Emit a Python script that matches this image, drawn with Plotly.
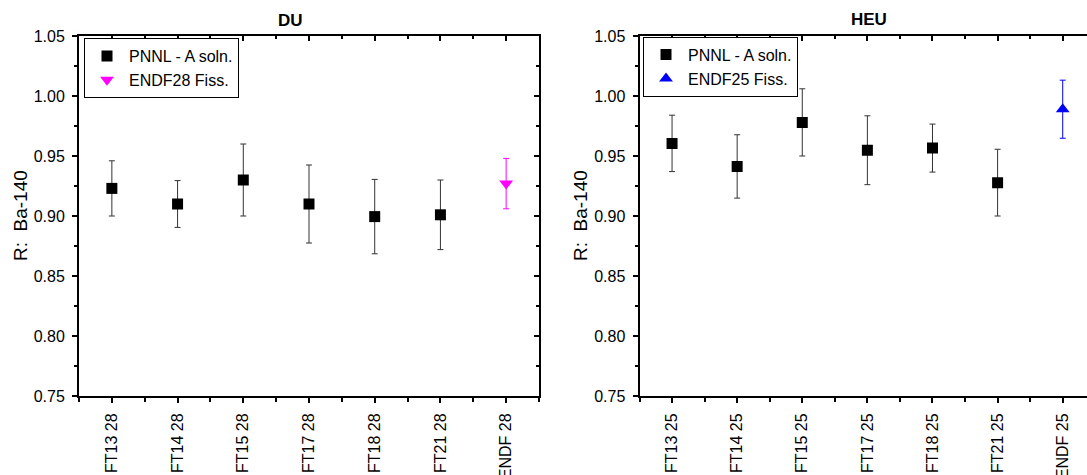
import plotly.graph_objects as go

# ---- data ----
du_labels = ["FT13 28", "FT14 28", "FT15 28", "FT17 28", "FT18 28", "FT21 28", "ENDF 28"]
du_pnnl = [0.923, 0.910, 0.930, 0.910, 0.8995, 0.901]
du_pnnl_err = [0.023, 0.0195, 0.030, 0.0325, 0.031, 0.029]
du_endf = [0.927]
du_endf_err = [0.021]

heu_labels = ["FT13 25", "FT14 25", "FT15 25", "FT17 25", "FT18 25", "FT21 25", "ENDF 25"]
heu_pnnl = [0.9605, 0.9413, 0.978, 0.9548, 0.9566, 0.9278]
heu_pnnl_err = [0.0235, 0.0264, 0.028, 0.0287, 0.020, 0.0278]
heu_endf = [0.989]
heu_endf_err = [0.0242]

y_range = [0.75, 1.05]
FONT = "Arial, Liberation Sans, sans-serif"

fig = go.Figure()

pos = list(range(1, 8))

def add_panel(xa, ya, labels, pnnl, perr, endf, eerr, ename, ecolor, esym, legend):
    fig.add_trace(go.Scatter(
        x=pos[:len(pnnl)], y=pnnl, mode="markers", name="PNNL - A soln.",
        marker=dict(symbol="square", size=11, color="black"),
        error_y=dict(type="data", array=perr, color="#333333", thickness=1, width=3),
        xaxis=xa, yaxis=ya, legend=legend))
    fig.add_trace(go.Scatter(
        x=[pos[len(pnnl)]], y=endf, mode="markers", name=ename,
        marker=dict(symbol=esym, size=12, color=ecolor),
        error_y=dict(type="data", array=eerr, color=ecolor, thickness=1, width=3),
        xaxis=xa, yaxis=ya, legend=legend))

add_panel("x", "y", du_labels, du_pnnl, du_pnnl_err, du_endf, du_endf_err,
          "ENDF28 Fiss.", "#ff00ff", "triangle-down", "legend")
add_panel("x2", "y2", heu_labels, heu_pnnl, heu_pnnl_err, heu_endf, heu_endf_err,
          "ENDF25 Fiss.", "#0000ff", "triangle-up", "legend2")

# dummy traces to activate overlay axes
for xa, ya in [("x3", "y"), ("x4", "y2"), ("x", "y3")]:
    fig.add_trace(go.Scatter(x=[None], y=[None], xaxis=xa, yaxis=ya,
                             showlegend=False, hoverinfo="skip"))

minor_x = [0.5 + i for i in range(8)]

def xbottom(domain, rng, labels):
    return dict(domain=domain, range=rng, tickvals=pos, ticktext=labels,
                tickangle=-90, ticks="outside", ticklen=5, tickwidth=1.5,
                tickcolor="black", showline=True, linecolor="black", linewidth=2,
                showgrid=False, zeroline=False, automargin=False,
                ticklabelstandoff=4,
                tickfont=dict(family=FONT, size=16, color="black"),
                minor=dict(tickvals=minor_x, ticks="outside", ticklen=4,
                           tickwidth=1.5, tickcolor="black", showgrid=False))

def xtop(over, rng):
    return dict(overlaying=over, side="top", range=rng, tickvals=pos,
                ticks="inside", ticklen=5, tickwidth=1.5, tickcolor="black",
                showticklabels=False, showline=True, linecolor="black",
                linewidth=2, showgrid=False, zeroline=False, automargin=False,
                minor=dict(tickvals=minor_x, ticks="inside", ticklen=3,
                           tickwidth=1.5, tickcolor="black", showgrid=False))

def yleft(anchor):
    return dict(anchor=anchor, domain=[0, 1], range=y_range, dtick=0.05,
                tick0=0.75, tickformat=".2f", ticks="outside", ticklen=5,
                tickwidth=1.5, tickcolor="black", showline=True,
                linecolor="black", linewidth=2, showgrid=False, zeroline=False,
                automargin=False, ticklabelstandoff=4,
                tickfont=dict(family=FONT, size=16, color="black"),
                minor=dict(dtick=0.025, tick0=0.75, ticks="outside", ticklen=3,
                           tickwidth=1.5, tickcolor="black", showgrid=False))

x1_range = [0.5, 7.5]
x2_range = [0.5, 7.373]

ytitle = "R:\u00a0 Ba-140"

fig.update_layout(
    template="none",
    width=1087, height=475,
    margin=dict(l=0, r=0, t=36, b=79, autoexpand=False),
    paper_bgcolor="white", plot_bgcolor="white",
    font=dict(family=FONT, size=16, color="black"),
    xaxis=dict(anchor="y", **xbottom([79 / 1087, 539 / 1087], x1_range, du_labels)),
    xaxis2=dict(anchor="y2", **xbottom([639.5 / 1087, 1.0], x2_range, heu_labels)),
    xaxis3=dict(anchor="y", **xtop("x", x1_range)),
    xaxis4=dict(anchor="y2", **xtop("x2", x2_range)),
    yaxis=yleft("x"),
    yaxis2=yleft("x2"),
    yaxis3=dict(overlaying="y", side="right", anchor="x", range=y_range,
                dtick=0.05, tick0=0.75, ticks="inside", ticklen=5, tickwidth=1.5,
                tickcolor="black", showticklabels=False, showline=True,
                linecolor="black", linewidth=2, showgrid=False, zeroline=False,
                automargin=False,
                minor=dict(dtick=0.025, tick0=0.75, ticks="inside", ticklen=3,
                           tickwidth=1.5, tickcolor="black", showgrid=False)),
    legend=dict(x=84 / 1087, y=0.994, xanchor="left", yanchor="top",
                bordercolor="black", borderwidth=1, bgcolor="white",
                font=dict(family=FONT, size=16, color="black"),
                tracegroupgap=0, itemwidth=34),
    legend2=dict(x=643 / 1087, y=0.998, xanchor="left", yanchor="top",
                 bordercolor="black", borderwidth=1, bgcolor="white",
                 font=dict(family=FONT, size=16, color="black"),
                 tracegroupgap=0, itemwidth=34),
    showlegend=True,
    annotations=[
        dict(text="<b>DU</b>", x=290.5 / 1087, y=1 + (36 - 21) / 360,
             xref="paper", yref="paper",
             showarrow=False, font=dict(family=FONT, size=17, color="black"),
             xanchor="center", yanchor="middle"),
        dict(text="<b>HEU</b>", x=868.7 / 1087, y=1 + (36 - 19.5) / 360,
             xref="paper", yref="paper",
             showarrow=False, font=dict(family=FONT, size=17, color="black"),
             xanchor="center", yanchor="middle"),
        dict(text=ytitle, x=20 / 1087, y=0.5, xref="paper", yref="paper",
             textangle=-90, showarrow=False,
             font=dict(family=FONT, size=19, color="black"),
             xanchor="center", yanchor="middle"),
        dict(text=ytitle, x=580 / 1087, y=0.5, xref="paper", yref="paper",
             textangle=-90, showarrow=False,
             font=dict(family=FONT, size=19, color="black"),
             xanchor="center", yanchor="middle"),
    ],
)

fig.write_html("out.html", config={"displayModeBar": False},
               post_script="document.body.style.margin='0';document.body.style.overflow='hidden';")
